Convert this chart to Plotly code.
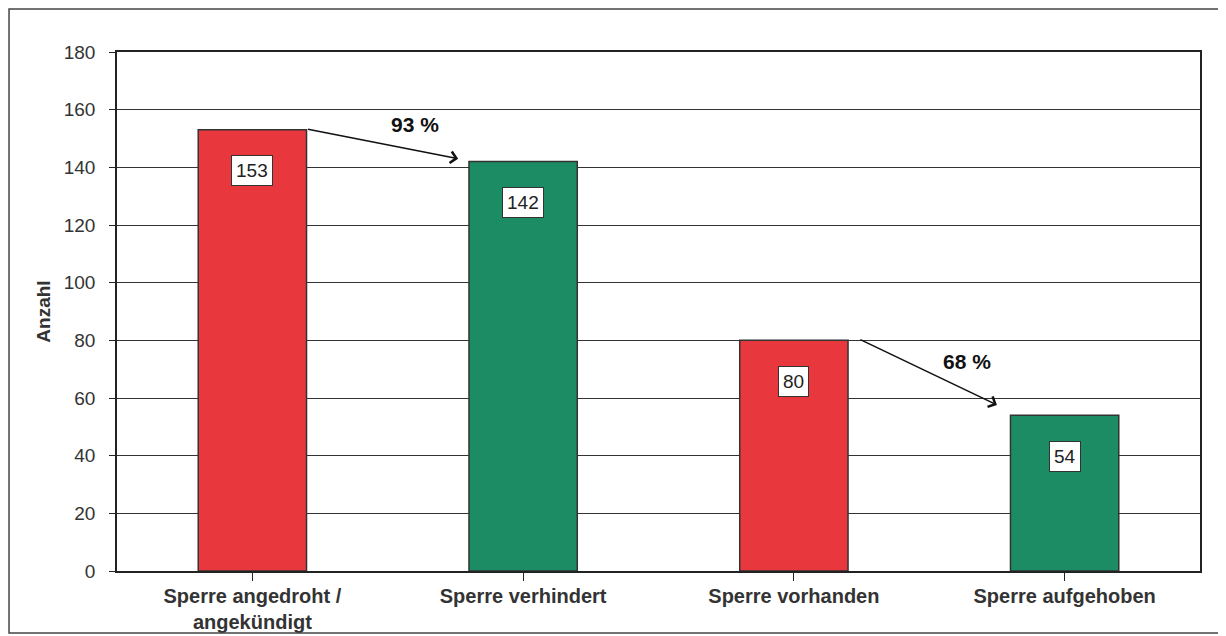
import plotly.graph_objects as go

categories = ["Sperre angedroht /<br>angekündigt", "Sperre verhindert",
              "Sperre vorhanden", "Sperre aufgehoben"]
values = [153, 142, 80, 54]
bar_colors = ["#e8383d", "#1b8c63", "#e8383d", "#1b8c63"]
y_ticks = [0, 20, 40, 60, 80, 100, 120, 140, 160, 180]
arrow_texts = ["93 %", "68 %"]

FONT = "Liberation Sans, Arial"

fig = go.Figure()
fig.add_trace(go.Bar(
    x=list(range(len(categories))), y=values,
    marker=dict(color=bar_colors, line=dict(color="#333333", width=1.5)),
    width=0.4, hoverinfo="skip",
))

# value boxes inside the bars
for i, v in enumerate(values):
    fig.add_annotation(x=i, y=v, text=str(v), showarrow=False, yshift=-41,
                       font=dict(family=FONT, size=19, color="#222"),
                       bgcolor="white", bordercolor="#333", borderwidth=1, borderpad=4)

# arrows with percentages
fig.add_annotation(x=0.76, y=143, ax=0.2, ay=153.3, xref="x", yref="y",
                   axref="x", ayref="y", showarrow=True, arrowhead=4,
                   arrowsize=1.4, arrowwidth=1.6, arrowcolor="#111", text="")
fig.add_annotation(x=0.6, y=155, text="<b>%s</b>" % arrow_texts[0], showarrow=False,
                   font=dict(family=FONT, size=21, color="#111"))
fig.add_annotation(x=2.75, y=57.6, ax=2.24, ay=80.5, xref="x", yref="y",
                   axref="x", ayref="y", showarrow=True, arrowhead=4,
                   arrowsize=1.4, arrowwidth=1.6, arrowcolor="#111", text="")
fig.add_annotation(x=2.64, y=72.5, text="<b>%s</b>" % arrow_texts[1], showarrow=False,
                   font=dict(family=FONT, size=21, color="#111"))

# outer frame of the scanned chart
fig.add_shape(type="rect", xref="paper", yref="paper",
              x0=-0.0997, x1=1.0203, y0=-0.1195, y1=1.0829,
              line=dict(color="#444", width=1.5))

fig.update_layout(
    width=1218, height=628,
    margin=dict(l=109, r=26, t=44, b=65, autoexpand=False),
    plot_bgcolor="white", paper_bgcolor="white",
    showlegend=False,
    font=dict(family=FONT, color="#333"),
    xaxis=dict(
        tickmode="array", tickvals=list(range(len(categories))),
        ticktext=["<b>%s</b>" % c for c in categories],
        range=[-0.5, 3.5], showline=True, linecolor="#222", linewidth=1.5, mirror=True,
        ticks="outside", tickson="boundaries", ticklen=8, tickcolor="#222",
        tickfont=dict(size=20, color="#333", family=FONT), automargin=False,
        ticklabelstandoff=-2, showgrid=False,
    ),
    yaxis=dict(
        range=[0, 180], tickvals=y_ticks, showline=True, linecolor="#222",
        linewidth=1.5, mirror=True, ticks="outside", ticklen=6, tickcolor="#222",
        tickfont=dict(size=19, color="#333"), ticklabelstandoff=10, automargin=False,
        showgrid=True, gridcolor="#333", gridwidth=1, zeroline=False,
        title=dict(text="<b>Anzahl</b>", font=dict(size=19, color="#333"), standoff=8),
    ),
)

fig.write_html("out.html")
